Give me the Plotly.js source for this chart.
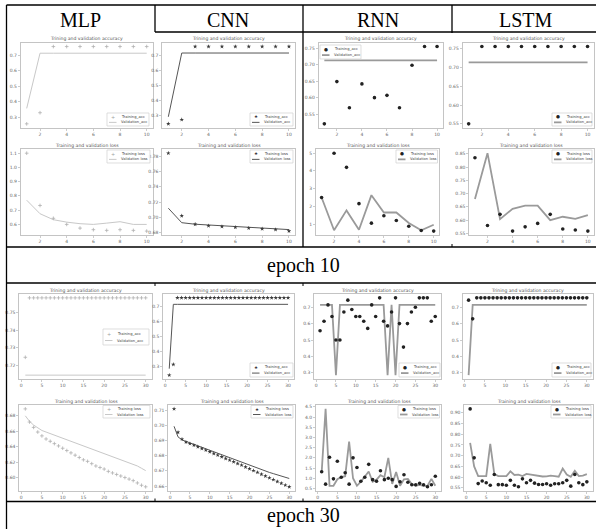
<!DOCTYPE html>
<html><head><meta charset="utf-8">
<script src="https://cdn.plot.ly/plotly-3.0.1.min.js"></script>
<style>html,body{margin:0;padding:0;background:#fff}#chart{width:596px;height:529px}</style>
</head><body><div id="chart"></div>
<script>
const W = 596, H = 529;

// ---------- data ----------
const models = ['MLP', 'CNN', 'RNN', 'LSTM'];
const rowLabels = ['epoch 10', 'epoch 30'];
const epochs10 = [1,2,3,4,5,6,7,8,9,10];
const epochs30 = [1,2,3,4,5,6,7,8,9,10,11,12,13,14,15,16,17,18,19,20,21,22,23,24,25,26,27,28,29,30];

// epoch 10 – accuracy
const mlp10_acc      = [0.257,0.329,0.757,0.757,0.757,0.757,0.757,0.757,0.757,0.757];
const mlp10_val_acc  = [0.357,0.714,0.714,0.714,0.714,0.714,0.714,0.714,0.714,0.714];
const cnn10_acc      = [0.243,0.271,0.757,0.757,0.757,0.757,0.757,0.757,0.757,0.757];
const cnn10_val_acc  = [0.290,0.714,0.714,0.714,0.714,0.714,0.714,0.714,0.714,0.714];
const rnn10_acc      = [0.520,0.649,0.569,0.642,0.600,0.607,0.569,0.699,0.756,0.756];
const rnn10_val_acc  = [0.714,0.714,0.714,0.714,0.714,0.714,0.714,0.714,0.714,0.714];
const lstm10_acc     = [0.550,0.756,0.756,0.756,0.756,0.756,0.756,0.756,0.756,0.756];
const lstm10_val_acc = [0.714,0.714,0.714,0.714,0.714,0.714,0.714,0.714,0.714,0.714];
// epoch 10 – loss
const mlp10_loss      = [1.100,0.733,0.643,0.600,0.574,0.563,0.558,0.563,0.558,0.553];
const mlp10_val_loss  = [0.770,0.675,0.633,0.616,0.605,0.600,0.609,0.619,0.600,0.600];
const cnn10_loss      = [0.784,0.702,0.691,0.689,0.688,0.687,0.686,0.685,0.684,0.682];
const cnn10_val_loss  = [0.712,0.693,0.691,0.690,0.689,0.688,0.687,0.686,0.685,0.684];
const rnn10_loss      = [2.50,5.00,4.20,2.15,1.05,1.47,1.20,0.87,0.63,0.60];
const rnn10_val_loss  = [2.50,0.65,1.77,0.68,2.63,1.65,1.65,1.06,0.65,0.96];
const lstm10_loss     = [0.835,0.580,0.622,0.559,0.575,0.588,0.622,0.567,0.563,0.559];
const lstm10_val_loss = [0.680,0.852,0.604,0.643,0.655,0.655,0.600,0.613,0.605,0.619];

// epoch 30 – accuracy
const mlp30_acc     = [0.7245,0.7585,0.7585,0.7585,0.7585,0.7585,0.7585,0.7585,0.7585,0.7585,0.7585,0.7585,0.7585,0.7585,0.7585,0.7585,0.7585,0.7585,0.7585,0.7585,0.7585,0.7585,0.7585,0.7585,0.7585,0.7585,0.7585,0.7585,0.7585,0.7585];
const mlp30_val_acc = [0.7143,0.7143,0.7143,0.7143,0.7143,0.7143,0.7143,0.7143,0.7143,0.7143,0.7143,0.7143,0.7143,0.7143,0.7143,0.7143,0.7143,0.7143,0.7143,0.7143,0.7143,0.7143,0.7143,0.7143,0.7143,0.7143,0.7143,0.7143,0.7143,0.7143];
const cnn30_acc     = [0.243,0.314,0.757,0.757,0.757,0.757,0.757,0.757,0.757,0.757,0.757,0.757,0.757,0.757,0.757,0.757,0.757,0.757,0.757,0.757,0.757,0.757,0.757,0.757,0.757,0.757,0.757,0.757,0.757,0.757];
const cnn30_val_acc = [0.286,0.714,0.714,0.714,0.714,0.714,0.714,0.714,0.714,0.714,0.714,0.714,0.714,0.714,0.714,0.714,0.714,0.714,0.714,0.714,0.714,0.714,0.714,0.714,0.714,0.714,0.714,0.714,0.714,0.714];
const rnn30_acc     = [0.557,0.614,0.714,0.643,0.500,0.500,0.671,0.743,0.686,0.643,0.643,0.614,0.571,0.714,0.643,0.757,0.614,0.586,0.671,0.757,0.600,0.457,0.600,0.671,0.700,0.757,0.757,0.757,0.614,0.643];
const rnn30_val_acc = [0.714,0.714,0.714,0.714,0.286,0.714,0.714,0.714,0.714,0.714,0.714,0.714,0.714,0.714,0.714,0.714,0.714,0.286,0.714,0.286,0.714,0.714,0.714,0.714,0.714,0.714,0.714,0.714,0.714,0.714];
const lstm30_acc    = [0.743,0.629,0.757,0.757,0.757,0.757,0.757,0.757,0.757,0.757,0.757,0.757,0.757,0.757,0.757,0.757,0.757,0.757,0.757,0.757,0.757,0.757,0.757,0.757,0.757,0.757,0.757,0.757,0.757,0.757];
const lstm30_val_acc= [0.286,0.714,0.714,0.714,0.714,0.714,0.714,0.714,0.714,0.714,0.714,0.714,0.714,0.714,0.714,0.714,0.714,0.714,0.714,0.714,0.714,0.714,0.714,0.714,0.714,0.714,0.714,0.714,0.714,0.714];
// epoch 30 – loss
const mlp30_loss     = [0.689,0.672,0.665,0.659,0.654,0.650,0.647,0.644,0.641,0.638,0.635,0.632,0.629,0.626,0.623,0.621,0.618,0.615,0.613,0.611,0.608,0.606,0.604,0.602,0.600,0.598,0.596,0.593,0.590,0.588];
const mlp30_val_loss = [0.680,0.673,0.668,0.664,0.661,0.659,0.657,0.655,0.653,0.651,0.649,0.647,0.645,0.643,0.641,0.639,0.637,0.635,0.633,0.631,0.629,0.627,0.625,0.623,0.621,0.619,0.617,0.615,0.612,0.609];
const cnn30_loss     = [0.7110,0.6955,0.6910,0.6890,0.6880,0.6870,0.6860,0.6848,0.6837,0.6826,0.6815,0.6804,0.6793,0.6782,0.6771,0.6760,0.6749,0.6738,0.6726,0.6714,0.6702,0.6690,0.6678,0.6666,0.6654,0.6642,0.6630,0.6618,0.6606,0.6595];
const cnn30_val_loss = [0.6995,0.6925,0.6905,0.6895,0.6885,0.6876,0.6867,0.6858,0.6849,0.6840,0.6830,0.6820,0.6810,0.6800,0.6790,0.6780,0.6770,0.6760,0.6750,0.6740,0.6730,0.6720,0.6710,0.6700,0.6690,0.6682,0.6674,0.6666,0.6658,0.6650];
const rnn30_loss     = [1.32,0.71,2.03,0.97,1.83,1.05,1.27,0.71,2.00,1.53,0.85,1.05,1.68,0.93,0.85,1.37,0.93,1.00,0.93,0.60,0.83,1.17,0.80,0.68,0.68,0.75,0.68,0.58,0.68,1.10];
const rnn30_val_loss = [1.30,4.40,0.63,0.63,0.95,1.05,1.10,2.80,1.00,0.63,0.83,1.07,1.33,0.83,0.93,1.15,1.05,2.00,0.72,1.30,0.63,0.95,0.97,0.72,0.63,0.67,0.63,0.63,0.97,0.63];
const lstm30_loss    = [0.918,0.690,0.570,0.582,0.574,0.562,0.612,0.565,0.565,0.562,0.585,0.562,0.555,0.592,0.574,0.585,0.572,0.566,0.566,0.569,0.562,0.569,0.569,0.574,0.585,0.558,0.612,0.574,0.565,0.578];
const lstm30_val_loss= [0.760,0.650,0.605,0.605,0.605,0.755,0.615,0.605,0.605,0.605,0.627,0.610,0.612,0.605,0.615,0.612,0.607,0.603,0.603,0.604,0.607,0.605,0.602,0.640,0.612,0.602,0.630,0.605,0.607,0.614];

// tick values / labels
const xticks10 = [2,4,6,8,10];
const xticks30 = [0,5,10,15,20,25,30];
const yt_acc_a   = [0.3,0.4,0.5,0.6,0.7];          const yl_acc_a   = ['0.3','0.4','0.5','0.6','0.7'];
const yt_acc_b   = [0.55,0.60,0.65,0.70,0.75];     const yl_acc_b   = ['0.55','0.60','0.65','0.70','0.75'];
const yt_acc_c   = [0.72,0.73,0.74,0.75];          const yl_acc_c   = ['0.72','0.73','0.74','0.75'];
const yt_mlp10_l = [0.6,0.7,0.8,0.9,1.0,1.1];      const yl_mlp10_l = ['0.6','0.7','0.8','0.9','1.0','1.1'];
const yt_cnn10_l = [0.68,0.70,0.72,0.74,0.76,0.78];const yl_cnn10_l = ['0.68','0.70','0.72','0.74','0.76','0.78'];
const yt_rnn10_l = [1,2,3,4,5];                    const yl_rnn10_l = ['1','2','3','4','5'];
const yt_lstm10_l= [0.55,0.60,0.65,0.70,0.75,0.80,0.85]; const yl_lstm10_l=['0.55','0.60','0.65','0.70','0.75','0.80','0.85'];
const yt_mlp30_l = [0.60,0.62,0.64,0.66,0.68];     const yl_mlp30_l = ['0.60','0.62','0.64','0.66','0.68'];
const yt_cnn30_l = [0.66,0.67,0.68,0.69,0.70,0.71];const yl_cnn30_l = ['0.66','0.67','0.68','0.69','0.70','0.71'];
const yt_rnn30_l = [0.5,1.0,1.5,2.0,2.5,3.0,3.5,4.0,4.5]; const yl_rnn30_l=['0.5','1.0','1.5','2.0','2.5','3.0','3.5','4.0','4.5'];
const yt_lstm30_l= [0.55,0.60,0.65,0.70,0.75,0.80,0.85,0.90]; const yl_lstm30_l=['0.55','0.60','0.65','0.70','0.75','0.80','0.85','0.90'];

const accTitle = 'Trining and validation accuracy';
const lossTitle = 'Training and validation loss';
const accLegend = ['Training_acc', 'Validation_acc'];
const lossLegend = ['Training loss', 'Validation loss'];

// ---------- panel layout (pixel boxes) ----------
const panels = [
 {box:[20.7,42.7,152.7,127.7], x:epochs10, tr:mlp10_acc,  va:mlp10_val_acc,  yt:yt_acc_a, yl:yl_acc_a, xt:xticks10, k:'acc', m:'mlp', leg:[107,113,149,126]},
 {box:[162.3,42.7,295,127.7],  x:epochs10, tr:cnn10_acc,  va:cnn10_val_acc,  yt:yt_acc_a, yl:yl_acc_a, xt:xticks10, k:'acc', m:'cnn', leg:[250,113,293,126]},
 {box:[318.7,42.7,442.7,127.7],x:epochs10, tr:rnn10_acc,  va:rnn10_val_acc,  yt:yt_acc_b, yl:yl_acc_b, xt:xticks10, k:'acc', m:'rnn', leg:[320,45,361,59]},
 {box:[462.7,42.7,593.5,127.7],x:epochs10, tr:lstm10_acc, va:lstm10_val_acc, yt:yt_acc_b, yl:yl_acc_b, xt:xticks10, k:'acc', m:'rnn', leg:[552,113,592,126]},
 {box:[20.7,149.3,152.7,235],  x:epochs10, tr:mlp10_loss, va:mlp10_val_loss, yt:yt_mlp10_l, yl:yl_mlp10_l, xt:xticks10, k:'loss', m:'mlp', leg:[107,150,150,163]},
 {box:[162.3,149.3,295,235],   x:epochs10, tr:cnn10_loss, va:cnn10_val_loss, yt:yt_cnn10_l, yl:yl_cnn10_l, xt:xticks10, k:'loss', m:'cnn', leg:[250,150,293,163]},
 {box:[316,149.3,439.3,235],   x:epochs10, tr:rnn10_loss, va:rnn10_val_loss, yt:yt_rnn10_l, yl:yl_rnn10_l, xt:xticks10, k:'loss', m:'rnn', leg:[396,150,437.5,163]},
 {box:[469.3,149.3,593.5,235], x:epochs10, tr:lstm10_loss,va:lstm10_val_loss,yt:yt_lstm10_l,yl:yl_lstm10_l,xt:xticks10, k:'loss', m:'rnn', leg:[552,150,592,163]},
 {box:[19.3,294,151.7,379],    x:epochs30, tr:mlp30_acc,  va:mlp30_val_acc,  yt:yt_acc_c, yl:yl_acc_c, xt:xticks30, k:'acc', m:'mlp', leg:[103,329,149,345]},
 {box:[163.3,294,294,379],     x:epochs30, tr:cnn30_acc,  va:cnn30_val_acc,  yt:yt_acc_a, yl:yl_acc_a, xt:xticks30, k:'acc', m:'cnn', leg:[250,363,293,377]},
 {box:[314.3,294,441,379],     x:epochs30, tr:rnn30_acc,  va:rnn30_val_acc,  yt:yt_acc_a, yl:yl_acc_a, xt:xticks30, k:'acc', m:'rnn', leg:[399,363,440,377]},
 {box:[462.7,294,592.7,379],   x:epochs30, tr:lstm30_acc, va:lstm30_val_acc, yt:yt_acc_a, yl:yl_acc_a, xt:xticks30, k:'acc', m:'rnn', leg:[552,363,591,377]},
 {box:[19.3,405,151.7,490.7],  x:epochs30, tr:mlp30_loss, va:mlp30_val_loss, yt:yt_mlp30_l, yl:yl_mlp30_l, xt:xticks30, k:'loss', m:'mlp', leg:[103,405.5,150,418]},
 {box:[168.3,405,295,490.7],   x:epochs30, tr:cnn30_loss, va:cnn30_val_loss, yt:yt_cnn30_l, yl:yl_cnn30_l, xt:xticks30, k:'loss', m:'cnn', leg:[251,405.5,293,418]},
 {box:[316,405,441,490.7],     x:epochs30, tr:rnn30_loss, va:rnn30_val_loss, yt:yt_rnn30_l, yl:yl_rnn30_l, xt:xticks30, k:'loss', m:'rnn', leg:[398,405.5,439.5,418]},
 {box:[464.3,405,592.7,490.7], x:epochs30, tr:lstm30_loss,va:lstm30_val_loss,yt:yt_lstm30_l,yl:yl_lstm30_l,xt:xticks30, k:'loss', m:'rnn', leg:[551,405.5,591,418]}
];

const styles = {
  mlp: {marker:{symbol:'cross-thin-open', size:2.6, color:'#b0b0b0', line:{color:'#b0b0b0', width:0.8}}, line:{color:'#c8c8c8', width:1}, glyph:'+', gcol:'#a0a0a0', gsize:5},
  cnn: {marker:{symbol:'star', size:3.4, color:'#3a3a3a'}, line:{color:'#555', width:1}, glyph:'\u2605', gcol:'#333', gsize:4.5},
  rnn: {marker:{symbol:'circle', size:3.6, color:'#222'}, line:{color:'#9a9a9a', width:1.8}, glyph:'\u25CF', gcol:'#222', gsize:4.5}
};

const px = v => v / W;
const py = v => 1 - v / H;

const layout = {
  width: W, height: H, margin:{l:0,r:0,t:0,b:0}, showlegend:false,
  paper_bgcolor:'#fff', plot_bgcolor:'#fff',
  font:{family:'DejaVu Sans', color:'#555'},
  shapes:[], annotations:[]
};
const data = [];

const axisStyle = {
  showgrid:false, zeroline:false, showline:true, mirror:true,
  linecolor:'#c4c4c4', linewidth:1, ticks:'outside', ticklen:2, tickwidth:0.6,
  tickcolor:'#aaa', tickfont:{size:4.5, color:'#666', family:'DejaVu Sans'}, fixedrange:true
};

panels.forEach((p, i) => {
  const n = i + 1, sfx = n > 1 ? n : '';
  const all = p.tr.concat(p.va);
  const lo = Math.min(...all), hi = Math.max(...all), s = hi - lo;
  const x0 = p.x[0], x1 = p.x[p.x.length - 1], xs = x1 - x0;
  layout['xaxis' + sfx] = Object.assign({}, axisStyle, {
    domain:[px(p.box[0]), px(p.box[2])], anchor:'y' + sfx,
    range:[x0 - 0.05 * xs, x1 + 0.05 * xs], tickvals:p.xt, ticktext:p.xt.map(String)
  });
  layout['yaxis' + sfx] = Object.assign({}, axisStyle, {
    domain:[py(p.box[3]), py(p.box[1])], anchor:'x' + sfx,
    range:[lo - 0.05 * s, hi + 0.05 * s], tickvals:p.yt, ticktext:p.yl
  });
  const st = styles[p.m];
  const names = p.k === 'acc' ? accLegend : lossLegend;
  data.push({type:'scatter', mode:'lines', x:p.x, y:p.va, xaxis:'x' + sfx, yaxis:'y' + sfx, line:st.line, name:names[1], hoverinfo:'skip'});
  data.push({type:'scatter', mode:'markers', x:p.x, y:p.tr, xaxis:'x' + sfx, yaxis:'y' + sfx, marker:st.marker, name:names[0], hoverinfo:'skip'});

  // subplot title
  layout.annotations.push({
    text: p.k === 'acc' ? accTitle : lossTitle, xref:'paper', yref:'paper',
    x: px((p.box[0] + p.box[2]) / 2), y: py(p.box[1] - 3.8), xanchor:'center', yanchor:'middle',
    showarrow:false, font:{size:4.6, color:'#555', family:'DejaVu Sans'}
  });

  // legend
  const [l, t, r, b] = p.leg;
  layout.shapes.push({type:'rect', xref:'paper', yref:'paper', x0:px(l), x1:px(r), y0:py(b), y1:py(t),
    fillcolor:'rgba(255,255,255,0.9)', line:{color:'#d0d0d0', width:0.7}});
  const r1 = t + (b - t) * 0.3, r2 = t + (b - t) * 0.72;
  layout.annotations.push({text:st.glyph, xref:'paper', yref:'paper', x:px(l + 5.5), y:py(r1),
    xanchor:'center', yanchor:'middle', showarrow:false, font:{size:st.gsize, color:st.gcol}});
  layout.shapes.push({type:'line', xref:'paper', yref:'paper', x0:px(l + 2), x1:px(l + 9.5), y0:py(r2), y1:py(r2),
    line:{color:st.line.color, width:st.line.width}});
  [names[0], names[1]].forEach((txt, j) => {
    layout.annotations.push({text:txt, xref:'paper', yref:'paper', x:px(l + 11.5), y:py(j ? r2 : r1),
      xanchor:'left', yanchor:'middle', showarrow:false, font:{size:3.7, color:'#444', family:'DejaVu Sans'}});
  });
});

// ---------- table lines ----------
const tl = (x0, y0, x1, y1, w) => layout.shapes.push({type:'line', xref:'paper', yref:'paper',
  x0:px(x0), y0:py(y0), x1:px(x1), y1:py(y1), line:{color:'#000', width:w || 1.3}});
tl(6.5, 5, 596, 5);
tl(6.5, 5, 6.5, 529);
tl(155, 5, 155, 32);
tl(155, 32, 596, 32);
tl(303, 5, 303, 247);
tl(452, 5, 452, 33);
tl(6.5, 247, 596, 247);
tl(6.5, 283, 596, 283);
tl(6.5, 501.5, 596, 501.5);
tl(452, 244, 452, 247, 1);
tl(155, 283, 155, 286, 1);
tl(303, 283, 303, 286, 1);
tl(155, 498.5, 155, 501.5, 1);
tl(303, 498.5, 303, 501.5, 1);

// headers and row labels
const headerX = [80, 228, 378, 526];
models.forEach((m, i) => layout.annotations.push({text:m, xref:'paper', yref:'paper', x:px(headerX[i]), y:py(19.5),
  xanchor:'center', yanchor:'middle', showarrow:false, font:{size:20, color:'#000', family:'Liberation Serif'}}));
const rowY = [265, 515.5];
rowLabels.forEach((t, i) => layout.annotations.push({text:t, xref:'paper', yref:'paper', x:px(303), y:py(rowY[i]),
  xanchor:'center', yanchor:'middle', showarrow:false, font:{size:20, color:'#000', family:'Liberation Serif'}}));

Plotly.newPlot('chart', data, layout, {staticPlot:true, displayModeBar:false});
</script>
</body></html>
